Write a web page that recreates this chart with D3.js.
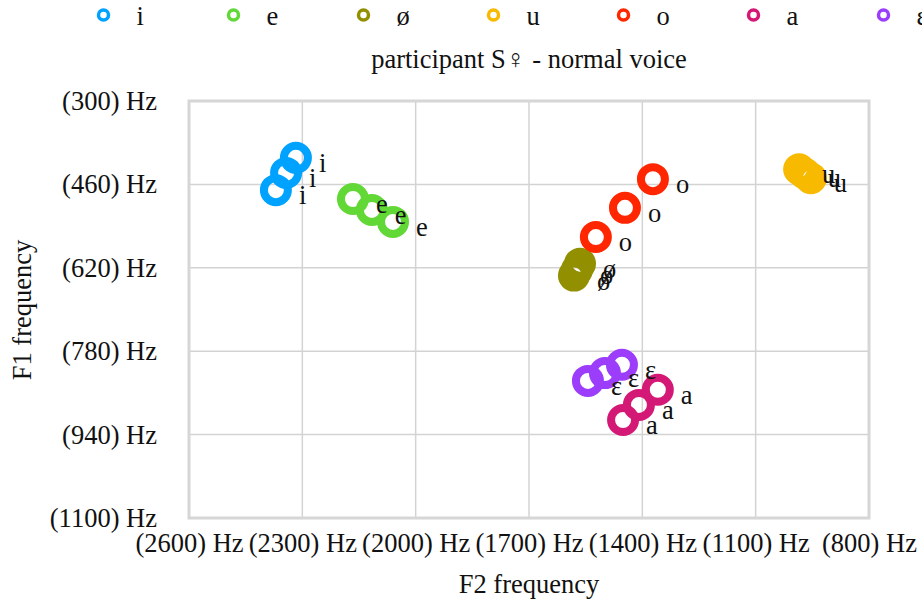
<!DOCTYPE html>
<html>
<head>
<meta charset="utf-8">
<script src="https://cdn.jsdelivr.net/npm/d3@7"></script>
<style>
  html, body { margin: 0; padding: 0; background: #fff; }
  svg { display: block; }
  text { font-family: "Liberation Serif", "Times New Roman", serif; fill: #111; }
</style>
</head>
<body>
<svg id="chart" width="922" height="604"></svg>
<script>
// ---- data (F2, F1 in Hz) ----
const vowels = ["i", "e", "ø", "u", "o", "a", "ɛ"];
const colors = ["#00a2ff", "#61d836", "#929000", "#f8ba00", "#ff2600", "#d41876", "#9b3dfb"];
const F2_i = [2317, 2343, 2370];
const F1_i = [409, 438, 471];
const F2_e = [2166, 2116, 2060];
const F1_e = [488, 509, 532];
const F2_oe = [1565, 1573, 1581];
const F1_oe = [612, 624, 635];
const F2_u = [985, 970, 954];
const F1_u = [431, 439, 448];
const F2_o = [1372, 1446, 1523];
const F1_o = [450, 505, 561];
const F2_a = [1451, 1409, 1359];
const F1_a = [912, 883, 854];
const F2_eps = [1544, 1499, 1454];
const F1_eps = [837, 822, 806];
const xTicks = [2600, 2300, 2000, 1700, 1400, 1100, 800];
const yTicks = [300, 460, 620, 780, 940, 1100];
const titleText = "participant S\u2640 - normal voice";
const xTitle = "F2 frequency";
const yTitle = "F1 frequency";

const seriesF2 = [F2_i, F2_e, F2_oe, F2_u, F2_o, F2_a, F2_eps];
const seriesF1 = [F1_i, F1_e, F1_oe, F1_u, F1_o, F1_a, F1_eps];
const series = vowels.map((v, k) => ({
  name: v, color: colors[k],
  points: seriesF2[k].map((f2, j) => ({ f2, f1: seriesF1[k][j] }))
}));

// ---- layout ----
const svg = d3.select("#chart");
const plot = { left: 189, right: 869, top: 101, bottom: 518 };
const fs = 26.5;

const x = d3.scaleLinear().domain([2600, 800]).range([plot.left, plot.right]);
const y = d3.scaleLinear().domain([300, 1100]).range([plot.top, plot.bottom]);

// gridlines
const grid = svg.append("g");
grid.selectAll("line.v").data(xTicks).join("line")
  .attr("x1", d => x(d)).attr("x2", d => x(d))
  .attr("y1", plot.top).attr("y2", plot.bottom)
  .attr("stroke", "#d3d3d3").attr("stroke-width", 1.5);
grid.selectAll("line.h").data(yTicks).join("line")
  .attr("x1", plot.left).attr("x2", plot.right)
  .attr("y1", d => y(d)).attr("y2", d => y(d))
  .attr("stroke", "#d3d3d3").attr("stroke-width", 1.5);

// frame
svg.append("rect")
  .attr("x", plot.left).attr("y", plot.top)
  .attr("width", plot.right - plot.left).attr("height", plot.bottom - plot.top)
  .attr("fill", "none").attr("stroke", "#d6d6d6").attr("stroke-width", 3);

// axes
const fmt = d => `(${d}) Hz`;
const yAxis = svg.append("g").attr("transform", `translate(${plot.left},0)`)
  .call(d3.axisLeft(y).tickValues(yTicks).tickFormat(fmt).tickSize(0).tickPadding(32));
yAxis.select(".domain").remove();
yAxis.selectAll("text").style("font-size", fs + "px").style("font-family", "Liberation Serif").attr("fill", "#111");

const xAxis = svg.append("g").attr("transform", `translate(0,${plot.bottom})`)
  .call(d3.axisBottom(x).tickValues(xTicks).tickFormat(fmt).tickSize(0).tickPadding(15));
xAxis.select(".domain").remove();
xAxis.selectAll("text").style("font-size", fs + "px").style("font-family", "Liberation Serif").attr("fill", "#111");

// axis titles
svg.append("text").attr("x", (plot.left + plot.right) / 2).attr("y", 593)
  .attr("text-anchor", "middle").style("font-size", fs + "px").text(xTitle);
svg.append("text").attr("transform", `translate(31,310) rotate(-90)`)
  .attr("text-anchor", "middle").style("font-size", fs + "px").text(yTitle);

// chart title
svg.append("text").attr("x", (plot.left + plot.right) / 2).attr("y", 68)
  .attr("text-anchor", "middle").style("font-size", fs + "px").text(titleText);

// legend
const lx = d3.scalePoint().domain(vowels).range([103.5, 883.5]);
const leg = svg.append("g").selectAll("g").data(series).join("g")
  .attr("transform", d => `translate(${lx(d.name)},15)`);
leg.append("circle").attr("r", 5).attr("fill", "none")
  .attr("stroke", d => d.color).attr("stroke-width", 3.5);
leg.append("text").attr("x", 33).attr("y", 10).style("font-size", fs + "px").text(d => d.name);

// markers
const marks = svg.append("g");
series.forEach(s => {
  marks.append("g").selectAll("circle").data(s.points).join("circle")
    .attr("cx", d => x(d.f2)).attr("cy", d => y(d.f1)).attr("r", 12)
    .attr("fill", "none").attr("stroke", s.color).attr("stroke-width", 8);
});

// data labels
const labels = svg.append("g");
series.forEach(s => {
  labels.append("g").selectAll("text").data(s.points).join("text")
    .attr("x", d => x(d.f2) + 23).attr("y", d => y(d.f1) + 14)
    .style("font-size", fs + "px").text(s.name);
});
</script>
</body>
</html>
